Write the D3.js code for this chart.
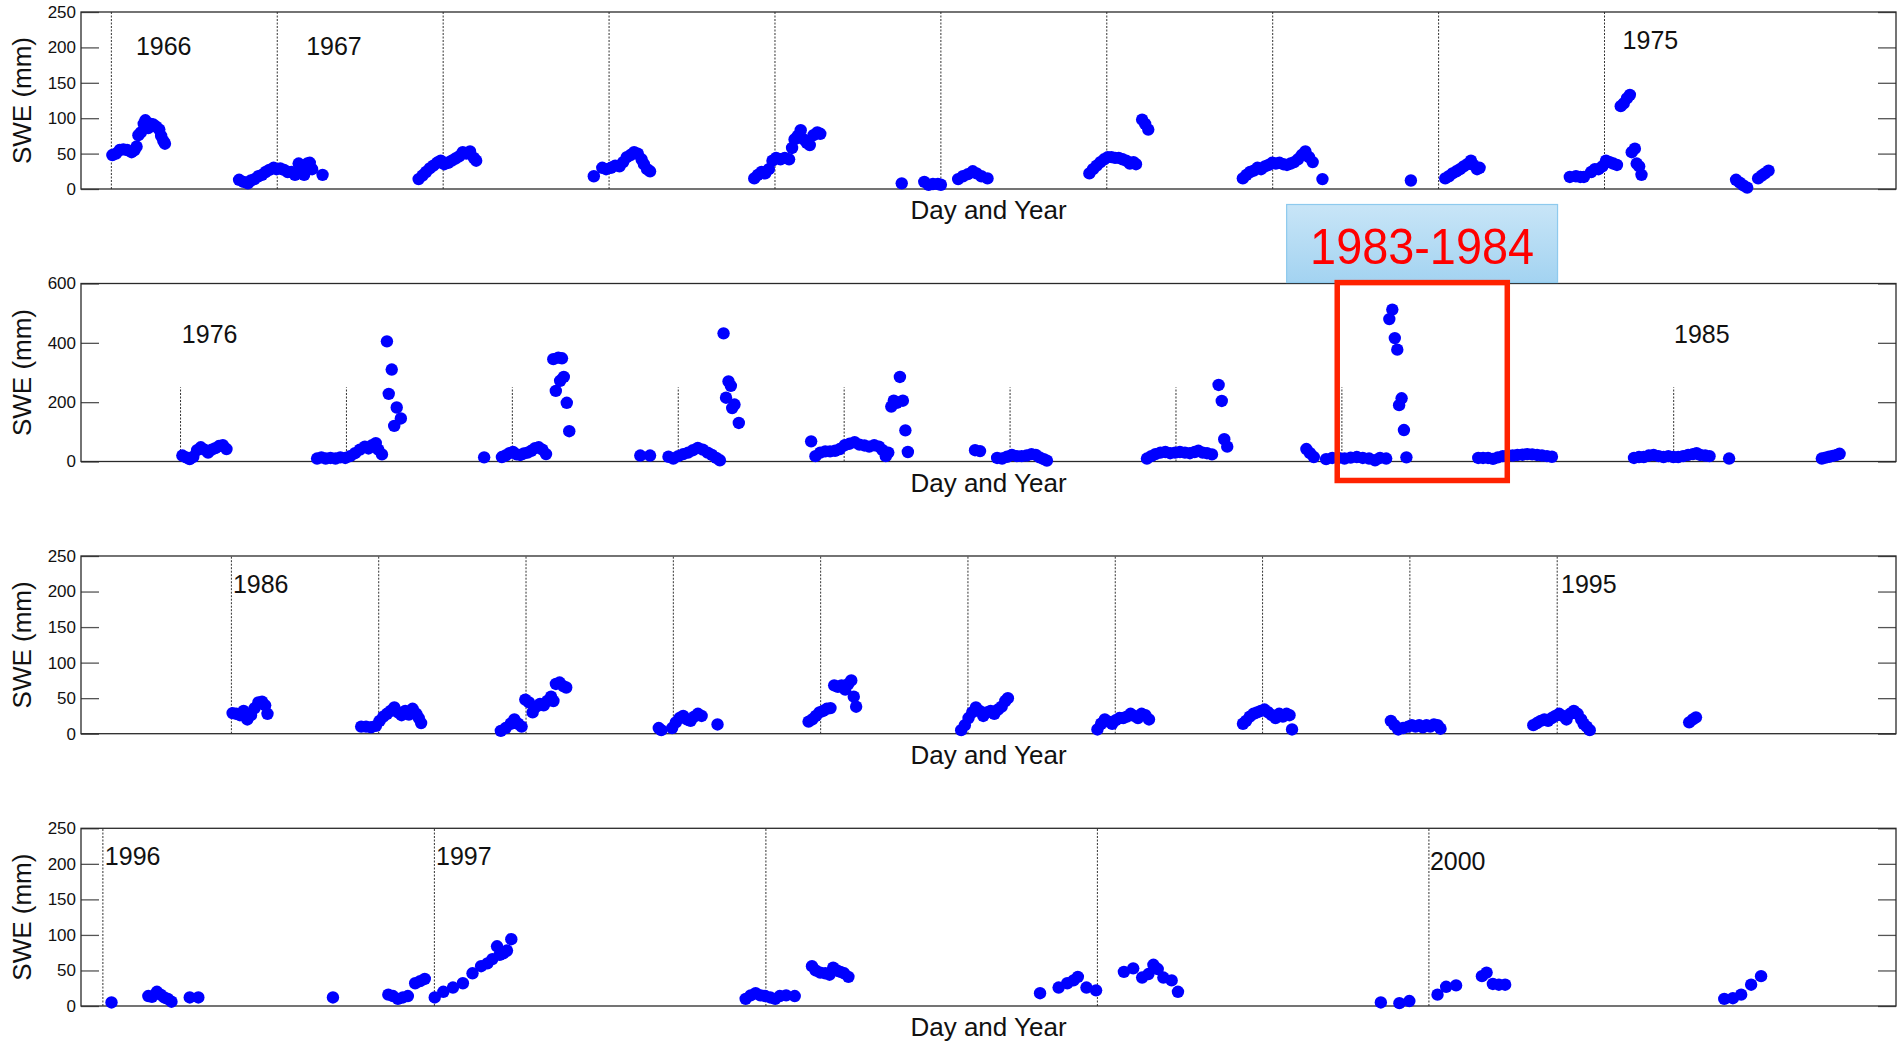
<!DOCTYPE html>
<html>
<head>
<meta charset="utf-8">
<script src="https://cdn.jsdelivr.net/npm/d3@7"></script>
<style>
  body { margin: 0; background: #fff; }
  text { font-family: "Liberation Sans", Arial, sans-serif; }
</style>
</head>
<body>
<svg id="chart" width="1902" height="1041"></svg>
<script>
// SWE observations, [decimal year, SWE mm], one array per panel
const swe1966 = [
  [1966.006,48],[1966.028,50],[1966.050,55],[1966.072,56],[1966.095,55],[1966.122,52],[1966.140,55],[1966.152,60],[1966.163,76],[1966.178,80],[1966.195,92],[1966.205,97],[1966.222,86],[1966.238,92],[1966.253,91],[1966.270,88],[1966.289,84],[1966.300,75],[1966.313,68],[1966.323,64],
  [1966.770,13],[1966.797,10],[1966.823,8],[1966.841,12],[1966.863,14],[1966.886,18],[1966.908,20],[1966.930,24],[1966.952,27],[1966.978,30],[1966.996,28],[1967.018,29],[1967.041,27],[1967.063,24],[1967.085,24],[1967.107,20],[1967.129,36],[1967.148,30],[1967.162,20],[1967.181,36],[1967.196,37],[1967.210,28],[1967.273,20],
  [1967.852,14],[1967.875,19],[1967.897,24],[1967.919,29],[1967.941,33],[1967.963,37],[1967.985,40],[1968.007,35],[1968.030,37],[1968.052,40],[1968.074,43],[1968.096,46],[1968.118,52],[1968.140,50],[1968.162,53],[1968.185,44],[1968.199,40],
  [1968.908,18],[1968.959,30],[1968.982,28],[1969.011,30],[1969.037,33],[1969.063,32],[1969.085,38],[1969.107,45],[1969.129,48],[1969.151,52],[1969.173,50],[1969.196,42],[1969.210,35],[1969.229,28],[1969.247,25],
  [1969.875,15],[1969.897,20],[1969.919,24],[1969.941,22],[1969.963,28],[1969.985,40],[1970.007,44],[1970.033,42],[1970.059,44],[1970.085,42],[1970.103,58],[1970.118,70],[1970.137,75],[1970.155,83],[1970.173,70],[1970.192,65],[1970.210,62],[1970.232,76],[1970.255,80],[1970.273,78],
  [1970.764,8],[1970.900,10],[1970.926,6],[1970.952,7],[1970.982,7],[1971.000,6],[1971.104,14],[1971.133,18],[1971.163,21],[1971.192,25],[1971.215,22],[1971.244,18],[1971.281,15],
  [1971.895,22],[1971.917,28],[1971.939,33],[1971.962,38],[1971.984,42],[1972.006,45],[1972.028,45],[1972.050,44],[1972.072,44],[1972.095,42],[1972.117,40],[1972.139,36],[1972.161,38],[1972.176,35],[1972.213,98],[1972.231,92],[1972.250,84],
  [1972.820,15],[1972.842,20],[1972.864,24],[1972.886,26],[1972.908,30],[1972.930,28],[1972.953,32],[1972.975,34],[1972.997,37],[1973.019,36],[1973.041,37],[1973.064,35],[1973.086,34],[1973.108,36],[1973.130,38],[1973.152,42],[1973.175,48],[1973.197,53],[1973.219,45],[1973.241,38],[1973.300,14],
  [1973.833,12],
  [1974.040,15],[1974.062,18],[1974.084,22],[1974.107,25],[1974.129,28],[1974.151,32],[1974.173,35],[1974.195,40],[1974.210,34],[1974.232,28],[1974.247,30],
  [1974.791,17],[1974.828,18],[1974.854,17],[1974.876,17],[1974.920,24],[1974.942,28],[1974.964,28],[1974.987,32],[1975.009,40],[1975.031,38],[1975.053,36],[1975.075,34],[1975.098,117],[1975.116,121],[1975.135,128],[1975.153,133],[1975.164,52],[1975.183,57],[1975.194,36],[1975.209,32],[1975.223,20],
  [1975.793,13],[1975.815,9],[1975.837,5],[1975.860,2],[1975.926,15],[1975.948,19],[1975.967,22],[1975.989,26]
];

const swe1976 = [
  [1976.011,20],[1976.033,14],[1976.055,8],[1976.077,16],[1976.100,38],[1976.122,48],[1976.144,40],[1976.166,30],[1976.188,40],[1976.210,45],[1976.232,52],[1976.255,55],[1976.277,42],
  [1976.823,10],[1976.849,14],[1976.875,10],[1976.904,12],[1976.934,10],[1976.963,14],[1976.993,12],[1977.022,18],[1977.052,28],[1977.081,40],[1977.111,50],[1977.133,44],[1977.155,55],[1977.177,62],[1977.192,40],[1977.214,24],[1977.244,405],[1977.255,228],[1977.273,310],[1977.288,120],[1977.303,182],[1977.328,145],
  [1977.830,14],[1977.937,15],[1977.959,20],[1977.982,28],[1978.004,32],[1978.026,24],[1978.048,22],[1978.070,27],[1978.092,30],[1978.114,36],[1978.137,45],[1978.159,48],[1978.181,40],[1978.203,25],[1978.247,345],[1978.262,238],[1978.277,350],[1978.288,272],[1978.299,348],[1978.310,285],[1978.328,198],[1978.343,102],
  [1978.771,20],[1978.830,20],[1978.941,16],[1978.970,10],[1979.000,18],[1979.030,25],[1979.059,30],[1979.089,38],[1979.118,46],[1979.148,40],[1979.177,30],[1979.203,22],[1979.229,12],[1979.251,4],[1979.273,432],[1979.288,215],[1979.303,270],[1979.317,255],[1979.325,180],[1979.339,192],[1979.365,130],
  [1979.801,68],[1979.827,18],[1979.856,30],[1979.886,34],[1979.915,34],[1979.945,36],[1979.974,42],[1980.004,55],[1980.033,60],[1980.063,65],[1980.092,57],[1980.122,54],[1980.151,50],[1980.181,55],[1980.210,50],[1980.232,38],[1980.251,18],[1980.266,30],[1980.284,185],[1980.299,205],[1980.317,198],[1980.336,285],[1980.354,205],[1980.369,105],[1980.384,32],
  [1980.789,38],[1980.819,35],[1980.922,12],[1980.952,10],[1980.982,16],[1981.011,22],[1981.041,18],[1981.070,18],[1981.100,20],[1981.129,25],[1981.155,22],[1981.178,14],[1981.203,8],[1981.222,3],
  [1981.825,10],[1981.851,18],[1981.876,25],[1981.906,30],[1981.936,32],[1981.965,28],[1981.995,30],[1982.024,32],[1982.054,30],[1982.084,28],[1982.113,32],[1982.135,36],[1982.161,30],[1982.187,28],[1982.217,24],[1982.257,258],[1982.276,204],[1982.291,75],[1982.309,50],
  [1982.786,42],[1982.808,28],[1982.831,15],[1982.905,8],[1982.942,12],[1982.979,12],[1983.016,10],[1983.053,13],[1983.090,15],[1983.126,12],[1983.164,10],[1983.200,4],[1983.230,12],[1983.267,10],[1983.286,480],[1983.304,512],[1983.319,416],[1983.334,377],[1983.345,190],[1983.360,213],[1983.374,106],[1983.389,14],
  [1983.822,12],[1983.851,12],[1983.881,12],[1983.911,9],[1983.940,14],[1983.970,18],[1984.000,20],[1984.029,20],[1984.058,22],[1984.088,23],[1984.118,25],[1984.147,24],[1984.177,22],[1984.206,20],[1984.236,18],[1984.266,16],
  [1984.761,12],[1984.791,15],[1984.820,15],[1984.850,20],[1984.879,22],[1984.909,18],[1984.939,15],[1984.968,18],[1984.998,15],[1985.027,15],[1985.057,18],[1985.087,22],[1985.116,25],[1985.138,28],[1985.160,22],[1985.190,20],[1985.216,18],[1985.334,10],
  [1985.893,10],[1985.915,13],[1985.937,16],[1985.959,19],[1985.982,22],[1986.000,26]
];

const swe1986 = [
  [1986.008,29],[1986.033,28],[1986.058,26],[1986.083,32],[1986.108,20],[1986.133,26],[1986.158,36],[1986.183,44],[1986.208,45],[1986.229,40],[1986.245,28],
  [1986.881,10],[1986.914,10],[1986.948,9],[1986.981,11],[1987.006,18],[1987.031,24],[1987.056,28],[1987.081,32],[1987.106,37],[1987.131,30],[1987.155,26],[1987.180,32],[1987.205,27],[1987.230,35],[1987.255,28],[1987.272,22],[1987.288,15],
  [1987.829,4],[1987.862,8],[1987.896,14],[1987.921,20],[1987.946,14],[1987.970,10],[1987.995,48],[1988.020,44],[1988.045,30],[1988.070,38],[1988.095,42],[1988.120,40],[1988.145,46],[1988.170,52],[1988.186,46],[1988.203,70],[1988.228,72],[1988.253,67],[1988.273,65],
  [1988.901,8],[1988.918,5],[1988.992,8],[1989.017,16],[1989.042,22],[1989.067,25],[1989.092,20],[1989.117,18],[1989.142,24],[1989.167,28],[1989.192,25],[1989.300,13],
  [1989.918,17],[1989.943,20],[1989.968,25],[1989.992,30],[1990.017,32],[1990.042,35],[1990.067,36],[1990.092,68],[1990.117,66],[1990.142,68],[1990.167,62],[1990.188,70],[1990.208,75],[1990.225,52],[1990.241,38],
  [1990.954,5],[1990.979,12],[1991.004,22],[1991.029,30],[1991.054,37],[1991.079,32],[1991.104,25],[1991.129,30],[1991.154,32],[1991.179,28],[1991.204,34],[1991.229,38],[1991.254,46],[1991.271,50],
  [1991.879,6],[1991.904,14],[1991.929,20],[1991.954,17],[1991.979,14],[1992.004,19],[1992.029,22],[1992.054,22],[1992.079,24],[1992.104,28],[1992.129,25],[1992.154,22],[1992.179,28],[1992.204,26],[1992.229,20],
  [1992.867,14],[1992.888,18],[1992.913,24],[1992.938,28],[1992.963,30],[1992.988,32],[1993.013,34],[1993.038,30],[1993.063,26],[1993.088,22],[1993.113,28],[1993.138,24],[1993.163,28],[1993.183,26],[1993.200,6],
  [1993.871,18],[1993.896,12],[1993.921,6],[1993.954,8],[1993.988,10],[1994.013,12],[1994.038,10],[1994.063,12],[1994.088,9],[1994.113,12],[1994.138,10],[1994.163,13],[1994.188,12],[1994.208,7],
  [1994.838,12],[1994.863,15],[1994.888,18],[1994.913,20],[1994.938,18],[1994.963,22],[1994.988,25],[1995.013,28],[1995.038,25],[1995.063,20],[1995.088,28],[1995.113,32],[1995.138,28],[1995.163,20],[1995.179,14],[1995.200,10],[1995.221,5],
  [1995.896,16],[1995.921,20],[1995.942,23]
];

const swe1996 = [
  [1996.026,5],
  [1996.137,14],[1996.148,13],[1996.163,20],[1996.174,16],[1996.185,12],[1996.196,10],[1996.207,6],
  [1996.262,12],[1996.288,12],
  [1996.694,12],
  [1996.861,16],[1996.875,14],[1996.890,10],[1996.905,12],[1996.920,14],[1996.942,32],[1996.957,35],[1996.971,38],
  [1997.001,12],[1997.027,20],[1997.056,26],[1997.086,32],[1997.115,46],[1997.141,56],[1997.160,60],[1997.175,66],[1997.189,84],[1997.197,72],[1997.208,74],[1997.219,78],[1997.232,94],
  [1997.939,10],[1997.954,15],[1997.969,18],[1997.983,15],[1997.998,14],[1998.013,12],[1998.028,10],[1998.042,14],[1998.061,15],[1998.087,14],
  [1998.139,56],[1998.150,50],[1998.164,47],[1998.179,46],[1998.192,44],[1998.203,54],[1998.214,50],[1998.225,48],[1998.236,46],[1998.249,41],
  [1998.827,18],[1998.883,26],[1998.909,32],[1998.928,36],[1998.941,41],[1998.967,26],[1998.996,22],
  [1999.080,48],[1999.108,53],[1999.135,40],[1999.154,45],[1999.169,58],[1999.182,52],[1999.199,40],[1999.224,36],[1999.243,20],
  [1999.855,5],[1999.911,4],[1999.941,7],
  [2000.026,16],[2000.052,27],[2000.082,29],[2000.160,42],[2000.174,47],[2000.193,31],[2000.211,30],[2000.230,30],
  [2000.891,10],[2000.917,11],[2000.942,16],[2000.972,30],[2001.002,42]
];

// axis limits (decimal years) and year divider lines
const xLim1 = [1965.817, 1976.757];
const xLim2 = [1975.400, 1986.340];
const xLim3 = [1984.979, 1997.300];
const xLim4 = [1995.934, 2001.409];
const yearLines1 = [1966, 1967, 1968, 1969, 1970, 1971, 1972, 1973, 1974, 1975];
const yearLines2 = [1976, 1977, 1978, 1979, 1980, 1981, 1982, 1983, 1984, 1985];
const yearLines3 = [1986, 1987, 1988, 1989, 1990, 1991, 1992, 1993, 1994, 1995];
const yearLines4 = [1996, 1997, 1998, 1999, 2000];

// y ticks
const yTicks250 = [0, 50, 100, 150, 200, 250];
const yTicks600 = [0, 200, 400, 600];

// year labels: [text, decimal year, SWE]
const yearLabels1 = [["1966", 1966.148, 189], ["1967", 1967.174, 189], ["1975", 1975.109, 198]];
const yearLabels2 = [["1976", 1976.008, 400], ["1985", 1985.002, 400]];
const yearLabels3 = [["1986", 1986.010, 198], ["1995", 1995.026, 198]];
const yearLabels4 = [["1996", 1996.006, 198], ["1997", 1997.005, 198], ["2000", 2000.003, 191]];

const svg = d3.select("#chart");
const left = 81, right = 1896;

const defs = svg.append("defs");
const grad = defs.append("linearGradient").attr("id", "boxGrad")
  .attr("x1", 0).attr("y1", 0).attr("x2", 0).attr("y2", 1);
grad.append("stop").attr("offset", "0%").attr("stop-color", "#c8e5f7");
grad.append("stop").attr("offset", "100%").attr("stop-color", "#a3d3f1");

function drawPanel(data, xLim, yMax, ticks, yearLines, lineTop, labels, top, bottom) {
  const x = d3.scaleLinear().domain(xLim).range([left, right]);
  const y = d3.scaleLinear().domain([0, yMax]).range([bottom, top]);
  const g = svg.append("g");

  // dotted year lines
  g.selectAll(".yl").data(yearLines).join("line")
    .attr("x1", d => x(d)).attr("x2", d => x(d))
    .attr("y1", y(0)).attr("y2", y(lineTop))
    .attr("stroke", "#333").attr("stroke-width", 1)
    .attr("stroke-dasharray", "2,1.5");

  // axes: ticks point inward, like matlab
  const yl = g.append("g").attr("transform", `translate(${left},0)`)
    .call(d3.axisLeft(y).tickValues(ticks).tickSizeInner(-18).tickSizeOuter(0).tickPadding(5));
  yl.select(".domain").remove();
  yl.selectAll("line").attr("stroke", "#555").attr("stroke-width", 1.3);
  yl.selectAll("text").attr("font-size", 17).attr("fill", "#111")
    .style("font-family", "'Liberation Sans', Arial, sans-serif");

  const yr = g.append("g").attr("transform", `translate(${right},0)`)
    .call(d3.axisRight(y).tickValues(ticks).tickSizeInner(-18).tickSizeOuter(0).tickFormat(""));
  yr.select(".domain").remove();
  yr.selectAll("line").attr("stroke", "#555").attr("stroke-width", 1.3);

  g.append("rect")
    .attr("x", left).attr("y", top)
    .attr("width", right - left).attr("height", bottom - top)
    .attr("fill", "none").attr("stroke", "#2a2a2a").attr("stroke-width", 1.3);

  // observations
  g.selectAll(".pt").data(data).join("circle")
    .attr("cx", d => x(d[0])).attr("cy", d => y(d[1]))
    .attr("r", 6.2).attr("fill", "#0000ff");

  g.selectAll(".lab").data(labels).join("text")
    .attr("x", d => x(d[1])).attr("y", d => y(d[2]))
    .attr("font-size", 25).attr("fill", "#111")
    .text(d => d[0]);

  g.append("text")
    .attr("x", (left + right) / 2).attr("y", bottom + 30)
    .attr("text-anchor", "middle").attr("font-size", 26).attr("fill", "#111")
    .text("Day and Year");

  g.append("text")
    .attr("transform", `translate(31,${(top + bottom) / 2}) rotate(-90)`)
    .attr("text-anchor", "middle").attr("font-size", 26).attr("fill", "#111")
    .text("SWE (mm)");

  return { x, y };
}

drawPanel(swe1966, xLim1, 250, yTicks250, yearLines1, 250, yearLabels1, 12, 189);
const p2 = drawPanel(swe1976, xLim2, 600, yTicks600, yearLines2, 250, yearLabels2, 283.5, 461.5);
drawPanel(swe1986, xLim3, 250, yTicks250, yearLines3, 250, yearLabels3, 556, 733.7);
drawPanel(swe1996, xLim4, 250, yTicks250, yearLines4, 250, yearLabels4, 828.3, 1006);

// highlight of the 1983-1984 season
const boxX = p2.x(1982.667), boxW = p2.x(1984.30) - boxX;
svg.append("rect")
  .attr("x", boxX).attr("y", 204.5)
  .attr("width", boxW).attr("height", 78)
  .attr("fill", "url(#boxGrad)").attr("stroke", "#8ecaee").attr("stroke-width", 1.2);
svg.append("text")
  .attr("x", boxX + boxW / 2).attr("y", 263.5)
  .attr("text-anchor", "middle").attr("font-size", 50)
  .attr("textLength", 224).attr("lengthAdjust", "spacingAndGlyphs")
  .attr("fill", "#ff0000")
  .text("1983-1984");

const rx0 = p2.x(1982.972), rx1 = p2.x(1983.997);
svg.append("rect")
  .attr("x", rx0).attr("y", p2.y(603))
  .attr("width", rx1 - rx0).attr("height", p2.y(-64) - p2.y(603))
  .attr("fill", "none").attr("stroke", "#ff2200").attr("stroke-width", 5.5);
</script>
</body>
</html>
